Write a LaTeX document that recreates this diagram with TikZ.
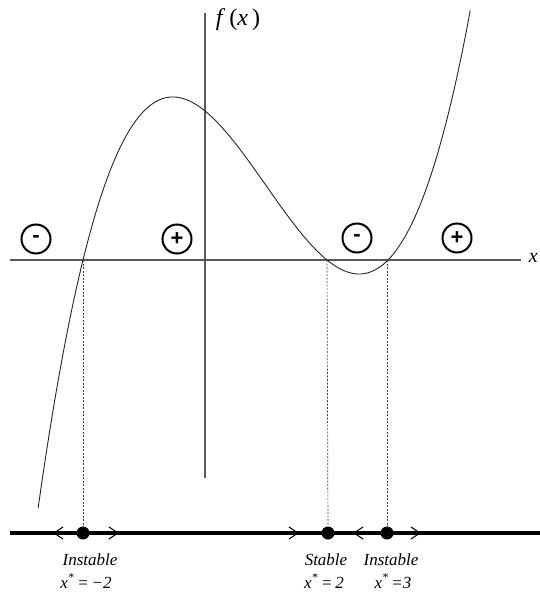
\documentclass[tikz,border=0pt]{standalone}
\usepackage{fontspec}
\setmainfont{Liberation Serif}
\newfontfamily\signfont{Liberation Sans}
\usetikzlibrary{positioning}

\begin{document}
\begin{tikzpicture}[x=1pt,y=-1pt,
  axis/.style={draw=black!65,line width=1.4pt},
  curve/.style={black!85,line width=0.9pt},
  guide/.style={black!75,line width=0.7pt,dash pattern=on 2pt off 1.5pt},
  phase/.style={black,line width=4pt},
  chev/.style={black,line width=1pt},
  dot/.style={circle,fill=black,inner sep=0pt,minimum size=13pt},
  sign/.style={circle,draw=black,line width=2pt,minimum size=29pt,
               inner sep=0pt,font=\signfont\bfseries\fontsize{22}{22}\selectfont},
  lbl/.style={font=\itshape\fontsize{17}{20}\selectfont,anchor=base}]
  \useasboundingbox (0,0) rectangle (539,596);
  % axes
  \coordinate (xl) at (10,260);
  \coordinate (xr) at (521,260);
  \coordinate (yt) at (205,13);
  \coordinate (yb) at (205,478);
  \draw[axis] (xl) -- (xr);
  \draw[axis,line width=1.8pt] (yt) -- (yb);
  \node[anchor=east,inner sep=1pt,font=\itshape\fontsize{20}{20}\selectfont]
       (xlab) at (539,258) {x};
  \node[font=\fontsize{24}{24}\selectfont] (flab) at (238,20)
       {\textit{f}\,(\textit{x}\,)};
  % the cubic f(x)=(x+2)(x-2)(x-3)
  \begin{scope}[shift={(205,260)},x=61pt,y=12.42pt]
    \draw[curve] plot[domain=-2.735:4.35,samples=120,smooth]
      (\x,{(\x+2)*(\x-2)*(\x-3)});
  \end{scope}
  % signs of f
  \node[sign] (s1) at (36,239) {-};
  \node[sign] (s2) at (177,239) {+};
  \node[sign] (s3) at (357,238) {-};
  \node[sign] (s4) at (457,238) {+};
  % phase line
  \coordinate (pl) at (10,533);
  \coordinate (pr) at (545,533);
  \draw[phase] (pl) -- (pr);
  \coordinate (z1) at (83,260);
  \coordinate (z2) at (327,260);
  \coordinate (z3) at (387,260);
  \node[dot] (e1) at (83,533) {};
  \node[dot] (e2) at (328,533) {};
  \node[dot] (e3) at (387,533) {};
  \draw[guide] (z1) -- (e1);
  \draw[guide] (z2) -- (e2);
  \draw[guide] (z3) -- (e3);
  \foreach \t/\d in {54/1,118/-1,298/-1,354/1,420/-1}
    \draw[chev] (\t+9*\d,527) -- (\t,533) -- (\t+9*\d,539);
  % labels
  \node[lbl] (l1) at (90,565) {Instable};
  \node[lbl] (v1) at (86,588) {\textit{x}\textsuperscript{*}\,=\,−2};
  \node[lbl] (l2) at (326,565) {Stable};
  \node[lbl] (v2) at (324,588) {\textit{x}\textsuperscript{*}\,=\,2};
  \node[lbl] (l3) at (391,565) {Instable};
  \node[lbl] (v3) at (393,588) {\textit{x}\textsuperscript{*}\,=3};
\end{tikzpicture}
\end{document}
